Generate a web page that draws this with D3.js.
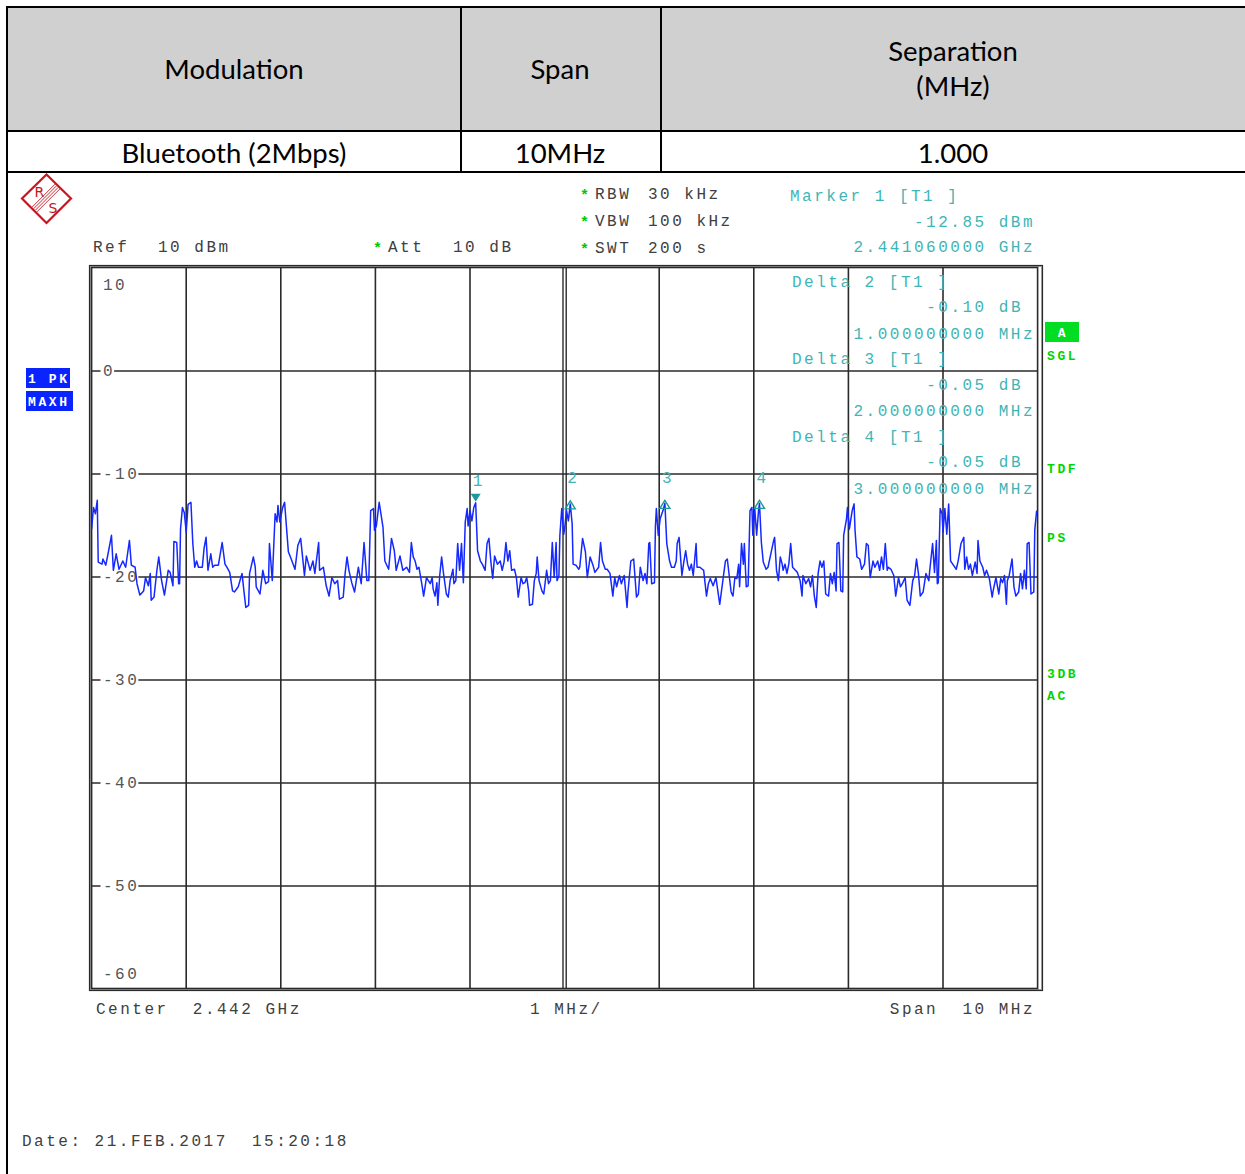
<!DOCTYPE html>
<html>
<head>
<meta charset="utf-8">
<script src="https://cdn.jsdelivr.net/npm/d3@7/dist/d3.min.js"></script>
<style>
  body { margin: 0; background: #fff; }
  svg { display: block; }
  .mono { font-family: "Liberation Mono", "Courier New", monospace; font-size: 16px; letter-spacing: 2.5px; }
  .cell { font-family: Lato, "Open Sans", sans-serif; font-size: 27.5px; fill: #000; }
  .tag { font-family: "Liberation Mono", monospace; font-weight: bold; font-size: 13px; letter-spacing: 2.6px; }
</style>
</head>
<body>
<svg id="chart" width="1245" height="1174"></svg>
<script>
// ---- summary table ----
const tableHeaders = [["Modulation"], ["Span"], ["Separation", "(MHz)"]];
const tableValues = ["Bluetooth (2Mbps)", "10MHz", "1.000"];

// ---- analyzer settings ----
const centerGHz = 2.442;
const spanMHz = 10;
const refLevel = 10;
const bottomLevel = -60;
const levelTicks = [10, 0, -10, -20, -30, -40, -50, -60];
const freqDivisions = [0, 1, 2, 3, 4, 5, 6, 7, 8, 9, 10];   // MHz from span start
const settingsLeft = [["Ref", "10 dBm"]];
const settingsMid = [["Att", "10 dB"]];
const settingsRight = [["RBW", "30 kHz"], ["VBW", "100 kHz"], ["SWT", "200 s"]];
const statusRight = ["SGL", "TDF", "PS", "3DB", "AC"];
const traceTags = ["1 PK", "MAXH"];

// ---- markers (offset MHz from span start, level dBm) ----
const markers = [
  { id: 1, offset: 4.06, level: -12.85, kind: "ref" },
  { id: 2, offset: 5.06, level: -12.95, delta: -0.10, dMHz: 1, kind: "delta" },
  { id: 3, offset: 6.06, level: -12.90, delta: -0.05, dMHz: 2, kind: "delta" },
  { id: 4, offset: 7.06, level: -12.90, delta: -0.05, dMHz: 3, kind: "delta" }
];

// ---- trace 1, max hold: [offset MHz from span start, level dBm] ----
const trace = [
[0.00,-15.4],[0.02,-13.3],[0.04,-13.9],[0.06,-12.6],[0.07,-18.6],[0.11,-18.8],[0.12,-18.3],[0.15,-18.9],[0.18,-17.5],[0.21,-16.0],[0.23,-19.4],[0.26,-17.8],[0.29,-19.3],[0.33,-18.5],[0.36,-19.1],[0.40,-16.5],[0.42,-18.9],[0.46,-19.1],[0.48,-20.7],[0.51,-21.8],[0.55,-21.4],[0.57,-20.1],[0.60,-20.9],[0.62,-19.7],[0.63,-22.3],[0.66,-22.0],[0.69,-19.4],[0.71,-18.1],[0.74,-20.4],[0.77,-21.8],[0.81,-19.4],[0.83,-19.6],[0.86,-20.9],[0.87,-16.6],[0.90,-16.7],[0.92,-20.7],[0.93,-20.7],[0.94,-15.4],[0.96,-13.3],[0.98,-13.8],[1.00,-15.7],[1.02,-13.0],[1.05,-12.8],[1.07,-16.8],[1.09,-19.1],[1.11,-18.5],[1.13,-19.1],[1.17,-19.1],[1.19,-17.2],[1.21,-16.2],[1.23,-19.4],[1.26,-17.8],[1.28,-19.1],[1.30,-18.9],[1.34,-18.9],[1.38,-16.7],[1.41,-18.8],[1.43,-19.1],[1.46,-19.6],[1.49,-21.4],[1.51,-21.5],[1.55,-21.0],[1.59,-19.7],[1.61,-21.4],[1.63,-23.0],[1.66,-22.8],[1.67,-19.7],[1.71,-18.1],[1.73,-19.1],[1.74,-21.0],[1.78,-21.7],[1.81,-19.4],[1.84,-20.7],[1.87,-20.5],[1.88,-16.8],[1.91,-20.4],[1.94,-13.9],[1.96,-14.7],[1.97,-13.1],[1.99,-14.7],[2.02,-13.3],[2.04,-12.8],[2.08,-17.6],[2.11,-18.3],[2.15,-19.3],[2.18,-17.0],[2.21,-16.3],[2.23,-18.1],[2.25,-19.9],[2.27,-18.0],[2.31,-19.4],[2.34,-18.5],[2.36,-19.7],[2.40,-16.7],[2.41,-19.4],[2.45,-19.1],[2.48,-20.9],[2.51,-21.9],[2.54,-20.1],[2.57,-20.7],[2.60,-20.4],[2.62,-22.2],[2.66,-22.0],[2.68,-19.7],[2.70,-18.1],[2.72,-19.4],[2.75,-20.6],[2.78,-21.5],[2.82,-19.1],[2.85,-20.7],[2.88,-16.7],[2.91,-20.4],[2.93,-20.4],[2.95,-13.6],[2.98,-13.4],[2.99,-15.5],[3.01,-15.1],[3.04,-12.8],[3.08,-15.2],[3.10,-18.5],[3.14,-19.3],[3.17,-16.3],[3.20,-17.5],[3.22,-19.4],[3.26,-18.0],[3.29,-19.4],[3.33,-19.1],[3.36,-19.6],
[3.38,-16.7],[3.40,-18.1],[3.42,-18.5],[3.44,-19.3],[3.46,-19.1],[3.49,-20.7],[3.51,-21.9],[3.54,-20.1],[3.58,-20.7],[3.60,-20.1],[3.61,-21.2],[3.63,-21.9],[3.65,-20.6],[3.66,-22.8],[3.68,-19.9],[3.70,-18.1],[3.72,-19.7],[3.75,-21.7],[3.77,-22.0],[3.79,-20.4],[3.82,-19.3],[3.83,-20.7],[3.85,-20.4],[3.87,-16.8],[3.89,-19.4],[3.91,-16.8],[3.93,-20.6],[3.95,-14.7],[3.97,-13.4],[3.98,-15.1],[4.00,-13.6],[4.02,-14.6],[4.04,-13.3],[4.06,-12.85],[4.08,-17.5],[4.11,-18.5],[4.13,-18.8],[4.16,-19.4],[4.18,-16.8],[4.20,-16.3],[4.22,-18.5],[4.24,-20.2],[4.26,-18.0],[4.29,-18.8],[4.32,-18.5],[4.34,-19.4],[4.36,-18.6],[4.38,-16.7],[4.40,-18.5],[4.42,-17.5],[4.44,-19.4],[4.47,-19.3],[4.49,-20.1],[4.51,-22.0],[4.54,-20.1],[4.56,-20.7],[4.58,-20.6],[4.60,-20.1],[4.62,-21.4],[4.63,-22.8],[4.66,-22.7],[4.68,-20.4],[4.70,-19.7],[4.71,-18.1],[4.73,-20.4],[4.76,-21.4],[4.78,-21.7],[4.81,-19.4],[4.83,-20.7],[4.85,-20.4],[4.87,-16.7],[4.89,-20.1],[4.91,-16.7],[4.92,-20.4],[4.94,-19.9],[4.95,-16.0],[4.97,-13.4],[4.99,-15.9],[5.00,-15.4],[5.02,-13.6],[5.04,-14.6],[5.06,-12.95],[5.08,-14.9],[5.09,-18.8],[5.12,-18.9],[5.15,-19.3],[5.16,-19.1],[5.19,-16.3],[5.22,-17.6],[5.24,-20.1],[5.27,-18.1],[5.30,-18.9],[5.32,-19.6],[5.36,-19.1],[5.38,-16.7],[5.40,-18.5],[5.43,-19.3],[5.45,-19.3],[5.48,-19.7],[5.51,-21.9],[5.53,-20.1],[5.55,-21.0],[5.58,-19.9],[5.60,-20.7],[5.63,-19.9],[5.66,-23.0],[5.67,-21.5],[5.70,-18.5],[5.73,-18.3],[5.76,-22.0],[5.78,-21.7],[5.80,-19.1],[5.83,-20.4],[5.85,-19.7],[5.87,-20.7],[5.89,-16.8],[5.90,-16.7],[5.92,-20.7],[5.95,-20.6],[5.96,-15.2],[5.97,-13.4],[5.99,-16.0],[6.01,-14.4],[6.04,-13.6],[6.06,-12.9],[6.08,-16.8],[6.11,-18.5],[6.13,-19.1],[6.16,-19.1],[6.18,-18.5],[6.19,-16.8],[6.21,-16.2],[6.24,-19.9],[6.26,-18.6],[6.28,-17.5],[6.30,-18.8],[6.32,-19.4],[6.34,-18.8],[6.36,-19.9],[6.39,-16.8],[6.40,-19.1],[6.43,-19.1],[6.47,-19.4],[6.50,-21.9],[6.52,-20.7],[6.54,-20.2],[6.57,-20.9],[6.60,-20.1],[6.64,-22.7],
[6.68,-19.9],[6.70,-18.5],[6.72,-18.3],[6.74,-19.9],[6.76,-21.5],[6.78,-21.9],[6.80,-20.1],[6.82,-20.2],[6.84,-18.8],[6.85,-21.0],[6.87,-16.8],[6.89,-18.8],[6.90,-16.8],[6.92,-21.0],[6.94,-20.9],[6.96,-13.6],[6.98,-13.3],[6.99,-16.0],[7.01,-13.4],[7.03,-16.0],[7.05,-13.6],[7.06,-12.9],[7.08,-16.7],[7.10,-18.6],[7.13,-19.3],[7.15,-19.1],[7.18,-17.8],[7.21,-16.5],[7.22,-16.2],[7.24,-19.4],[7.26,-20.4],[7.28,-18.1],[7.30,-18.8],[7.31,-19.4],[7.33,-18.8],[7.35,-19.7],[7.37,-18.8],[7.39,-16.8],[7.41,-19.1],[7.44,-19.4],[7.46,-19.6],[7.49,-20.4],[7.51,-21.9],[7.52,-19.9],[7.55,-20.7],[7.58,-20.2],[7.60,-21.0],[7.62,-19.9],[7.64,-21.9],[7.66,-23.0],[7.68,-19.7],[7.70,-18.5],[7.72,-19.1],[7.74,-18.5],[7.76,-21.7],[7.79,-21.9],[7.81,-19.7],[7.83,-20.7],[7.85,-19.6],[7.87,-21.4],[7.88,-16.8],[7.90,-16.7],[7.92,-21.4],[7.94,-21.5],[7.95,-16.0],[7.98,-14.4],[7.99,-13.3],[8.01,-15.4],[8.04,-13.6],[8.06,-12.95],[8.07,-15.5],[8.09,-18.1],[8.12,-18.3],[8.14,-19.3],[8.17,-18.8],[8.19,-16.8],[8.21,-17.0],[8.23,-20.1],[8.26,-18.5],[8.28,-19.1],[8.31,-18.5],[8.33,-19.4],[8.35,-18.1],[8.37,-19.3],[8.39,-16.8],[8.41,-19.4],[8.42,-19.1],[8.45,-19.3],[8.48,-19.9],[8.50,-21.9],[8.53,-20.1],[8.55,-21.0],[8.57,-20.7],[8.60,-20.1],[8.62,-22.3],[8.65,-22.8],[8.68,-20.4],[8.70,-19.9],[8.72,-18.3],[8.74,-19.7],[8.76,-21.9],[8.79,-21.5],[8.82,-19.7],[8.85,-20.4],[8.86,-19.4],[8.89,-16.8],[8.91,-19.6],[8.93,-16.5],[8.94,-20.7],[8.95,-20.6],[8.97,-13.4],[8.99,-13.9],[9.00,-15.7],[9.02,-13.4],[9.04,-15.9],[9.06,-12.95],[9.08,-18.5],[9.11,-18.9],[9.14,-19.3],[9.16,-18.5],[9.19,-16.8],[9.22,-16.2],[9.23,-19.3],[9.25,-18.1],[9.27,-19.3],[9.29,-18.8],[9.31,-19.9],[9.34,-18.6],[9.36,-19.7],[9.37,-16.5],[9.39,-18.5],[9.42,-19.1],[9.44,-19.9],[9.46,-19.4],[9.49,-20.2],[9.52,-22.0],[9.53,-21.4],[9.56,-20.1],[9.59,-21.7],[9.61,-20.2],[9.63,-20.6],[9.65,-19.9],[9.67,-22.7],[9.68,-20.4],[9.70,-19.9],[9.73,-18.3],[9.75,-21.0],[9.77,-21.9],[9.80,-21.5],[9.82,-19.7],[9.84,-21.2],[9.86,-19.4],[9.88,-21.2],[9.89,-16.8],[9.91,-16.7],[9.93,-21.7],[9.96,-21.5],[9.97,-15.5],[9.99,-13.6]
];

// ---- drawing ----
const svg = d3.select("#chart");
const W = 1245, H = 1174;
const textGray = "#404040";
const teal = "#3fb5b5";
const green = "#00d400";

svg.append("rect").attr("width", W).attr("height", H).attr("fill", "#fff");

// summary table
const colEdges = [7, 461, 661, W + 2];
const rowEdges = [7, 131, 172];
const colCenters = [234, 560, 953];
svg.append("rect").attr("x", 7).attr("y", 7).attr("width", W).attr("height", 124).attr("fill", "#d0d0d0");
const lines = svg.append("g").attr("stroke", "#000").attr("stroke-width", 2);
rowEdges.forEach(y => lines.append("line").attr("x1", 6).attr("x2", W).attr("y1", y).attr("y2", y));
colEdges.slice(1, 3).forEach(x => lines.append("line").attr("x1", x).attr("x2", x).attr("y1", 7).attr("y2", 172));
lines.append("line").attr("x1", 7).attr("x2", 7).attr("y1", 6).attr("y2", H);

tableHeaders.forEach((rows, i) => {
  rows.forEach((t, j) => {
    const yc = rows.length === 1 ? 70 : 52 + j * 35;
    svg.append("text").attr("class", "cell").attr("x", colCenters[i]).attr("y", yc + 9)
      .attr("text-anchor", "middle").text(t);
  });
  svg.append("text").attr("class", "cell").attr("x", colCenters[i]).attr("y", 163)
    .attr("text-anchor", "middle").text(tableValues[i]);
});

// Rohde & Schwarz logo
const logo = svg.append("g").attr("transform", "translate(46.5,198.5)");
logo.append("path").attr("d", "M0,-24 L24.5,0 L0,24.5 L-24.5,0 Z")
  .attr("fill", "#fff").attr("stroke", "#c8141e").attr("stroke-width", 2.2);
[-2.4, -0.8, 0.8, 2.4].forEach(o => logo.append("line")
  .attr("x1", 11 + o).attr("y1", -12 + o).attr("x2", -12 + o).attr("y2", 11 + o)
  .attr("stroke", "#c8141e").attr("stroke-width", 0.9));
logo.append("text").attr("x", -12).attr("y", -2).attr("font-family", "DejaVu Sans")
  .attr("font-size", 14).attr("fill", "#c8141e").text("R");
logo.append("text").attr("x", 2).attr("y", 14).attr("font-family", "DejaVu Sans")
  .attr("font-size", 14).attr("fill", "#c8141e").text("S");

// monospace text helper: x is the left edge, yc the vertical centre
function mono(x, yc, t, color, anchor) {
  return svg.append("text").attr("class", "mono").attr("x", x).attr("y", yc + 5.5)
    .attr("fill", color || textGray).attr("text-anchor", anchor || "start")
    .attr("xml:space", "preserve").text(t);
}
function star(x, yc) {
  svg.append("text").attr("x", x).attr("y", yc + 7)
    .attr("font-family", "Liberation Mono").attr("font-weight", "bold")
    .attr("fill", "#00c800").attr("font-size", 15).text("*");
}

// settings block
mono(93, 246, settingsLeft[0][0]); mono(158, 246, settingsLeft[0][1]);
star(373, 246); mono(388, 246, settingsMid[0][0]); mono(453, 246, settingsMid[0][1]);
settingsRight.forEach((s, i) => {
  const yc = 193 + i * 27;
  star(580, yc); mono(595, yc, s[0]); mono(648, yc, s[1]);
});

// plot geometry
const x = d3.scaleLinear().domain([centerGHz - spanMHz / 2000, centerGHz + spanMHz / 2000]).range([91.6, 1037.6]);
const y = d3.scaleLinear().domain([bottomLevel, refLevel]).range([988.5, 267.5]);
const fx = off => x(centerGHz - spanMHz / 2000 + off / 1000);

// frame (double border)
svg.append("rect").attr("x", 89.5).attr("y", 265.5).attr("width", 953).attr("height", 725)
  .attr("fill", "none").attr("stroke", "#2a2a2a").attr("stroke-width", 1.2);
svg.append("rect").attr("x", 90.5).attr("y", 266.5).attr("width", 951).attr("height", 723)
  .attr("fill", "none").attr("stroke", "#9a9a9a").attr("stroke-width", 1);
svg.append("rect").attr("x", 91.6).attr("y", 267.5).attr("width", 946).attr("height", 721)
  .attr("fill", "none").attr("stroke", "#2a2a2a").attr("stroke-width", 1.6);

// grid
const grid = svg.append("g").attr("stroke", "#2a2a2a").attr("stroke-width", 1.6);
freqDivisions.slice(1, -1).forEach(d => {
  const gx = fx(d);
  if (d === spanMHz / 2) {
    [-1.6, 1.6].forEach(o => grid.append("line").attr("x1", gx + o).attr("x2", gx + o)
      .attr("y1", y(refLevel)).attr("y2", y(bottomLevel)).attr("stroke-width", 1.4));
  } else {
    grid.append("line").attr("x1", gx).attr("x2", gx).attr("y1", y(refLevel)).attr("y2", y(bottomLevel));
  }
});
// level axis: inner ticks with labels sitting on the grid lines
const yAxis = d3.axisRight(y).tickValues(levelTicks.slice(1, -1)).tickSize(946).tickFormat(d => d);
const yg = svg.append("g").attr("transform", "translate(91.6,0)").call(yAxis);
yg.select(".domain").remove();
yg.selectAll(".tick line").attr("stroke", "#2a2a2a").attr("stroke-width", 1.6);
yg.selectAll(".tick text").remove();
levelTicks.forEach(v => {
  let yc = y(v);
  if (v === refLevel) yc = 284;
  if (v === bottomLevel) yc = 973;
  const t = mono(103, yc, String(v), "#555");
  if (v !== refLevel && v !== bottomLevel) {
    const bb = t.node().getBBox();
    svg.insert("rect", () => t.node()).attr("x", 100.5).attr("y", yc - 3)
      .attr("width", bb.width + 1.5).attr("height", 6).attr("fill", "#fff");
  }
});

// trace
svg.append("defs").append("clipPath").attr("id", "plotclip").append("rect")
  .attr("x", 91.6).attr("y", 267.5).attr("width", 946).attr("height", 721);
svg.append("path").datum(trace).attr("clip-path", "url(#plotclip)")
  .attr("d", d3.line().x(d => fx(d[0])).y(d => y(d[1])))
  .attr("fill", "none").attr("stroke", "#1428ff").attr("stroke-width", 1.5)
  .attr("stroke-linejoin", "round");

// marker symbols
markers.forEach(m => {
  const mx = fx(m.offset), my = y(m.level);
  if (m.kind === "ref") {
    svg.append("path").attr("d", `M${mx - 5},${my - 9} L${mx + 5},${my - 9} L${mx},${my - 1} Z`)
      .attr("fill", "#1a9a9a");
    mono(mx - 3, my - 22, String(m.id), teal);
  } else {
    svg.append("path").attr("d", `M${mx - 5},${my + 5} L${mx + 5},${my + 5} L${mx},${my - 3} Z`)
      .attr("fill", "none").attr("stroke", "#1a9a9a").attr("stroke-width", 1.4);
    mono(mx - 3, my - 26, String(m.id), teal);
  }
});

// marker readouts
const m1 = markers[0];
const fmtLevel = d3.format(".2f");
mono(790, 195, "Marker " + m1.id + " [T1 ]", teal);
mono(1035, 221, fmtLevel(m1.level).replace("\u2212", "-") + " dBm", teal, "end");
mono(1035, 246, (centerGHz - spanMHz / 2000 + m1.offset / 1000).toFixed(9) + " GHz", teal, "end");
markers.slice(1).forEach((m, i) => {
  const y0 = 281 + i * 77.5;
  mono(792, y0, "Delta " + m.id + " [T1 ]", teal);
  mono(1023, y0 + 25.5, fmtLevel(m.delta).replace("\u2212", "-") + " dB", teal, "end");
  mono(1035, y0 + 52, m.dMHz.toFixed(9) + " MHz", teal, "end");
});

// trace tags (left) and status flags (right)
traceTags.forEach((t, i) => {
  const yy = 368 + i * 23;
  const w = i === 0 ? 44 : 47;
  svg.append("rect").attr("x", 26).attr("y", yy).attr("width", w).attr("height", 20).attr("fill", "#0a24ff");
  svg.append("text").attr("class", "tag").attr("x", 28).attr("y", yy + 15).attr("fill", "#fff")
    .attr("xml:space", "preserve").text(t);
});
svg.append("rect").attr("x", 1045).attr("y", 322).attr("width", 34).attr("height", 20).attr("fill", "#00dd22");
svg.append("text").attr("class", "tag").attr("x", 1063).attr("y", 337).attr("fill", "#fff")
  .attr("text-anchor", "middle").text("A");
const statusY = [355, 468, 537, 673, 695];
statusRight.forEach((s, i) => {
  svg.append("text").attr("class", "tag").attr("x", 1047).attr("y", statusY[i] + 5)
    .attr("fill", green).text(s);
});

// footer
mono(96, 1008, "Center  " + centerGHz.toFixed(3) + " GHz");
mono(530, 1008, "1 MHz/");
mono(1035, 1008, "Span  " + spanMHz + " MHz", textGray, "end");
mono(22, 1140, "Date: 21.FEB.2017  15:20:18");
</script>
</body>
</html>
